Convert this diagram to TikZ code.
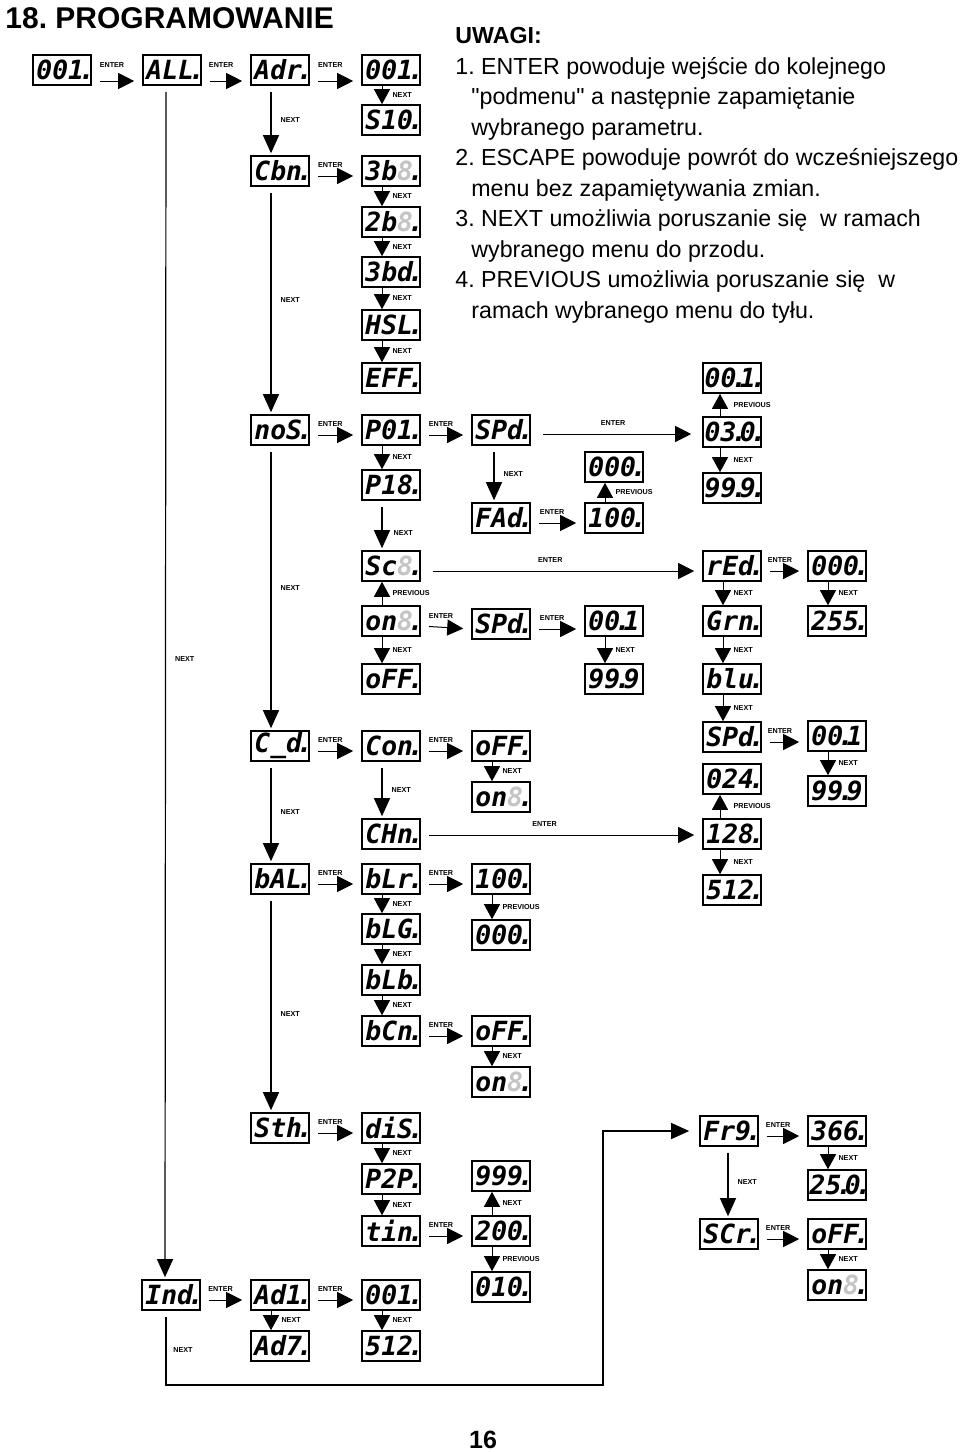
\documentclass[tikz,border=0pt]{standalone}
\usepackage{fontspec}
\setmainfont{Liberation Sans}[Ligatures=TeXOff]
\newfontfamily\segfont{DejaVu Sans Mono}
\usepackage{tikz}
\usetikzlibrary{arrows.meta, positioning}
\usepackage{xcolor}
\definecolor{SegOff}{HTML}{C4C4C4}
\newcommand{\segoff}[1]{\textcolor{SegOff}{#1}}
\newcommand{\segdot}{\rlap{\kern-0.2em.}\kern0.13em}
\frenchspacing

\begin{document}
\begin{tikzpicture}[x=0.5pt, y=-0.5pt,
  lcd/.style={draw, line width=0.8pt, minimum width=29pt, minimum height=15pt, inner sep=0pt,
    font=\segfont\bfseries\itshape\fontsize{13.2}{14}\selectfont},
  lbl/.style={font=\bfseries\fontsize{3.6}{4}\selectfont, inner sep=0.5pt},
  harr/.style={-{Triangle[length=8pt,width=8pt]}, line width=0.5pt, shorten <=4pt, shorten >=4pt},
  varr/.style={-{Triangle[length=7.5pt,width=8pt]}, line width=0.5pt},
  larr/.style={-{Triangle[length=9pt,width=8pt]}, line width=0.6pt, shorten <=3pt, shorten >=1pt}]
  \useasboundingbox (0,0) rectangle (960,1452);
  % Title, notes, page number
  \node[anchor=west, inner sep=0pt, font=\bfseries\fontsize{15}{18}\selectfont] (title) at (5,18) {18. PROGRAMOWANIE};
  \node[anchor=north west, align=left, inner sep=0pt, font=\fontsize{11.6}{15.25}\selectfont] (notes) at (455,27) {%
    {\bfseries UWAGI:}\\
    1. ENTER powoduje wejście do kolejnego\\
    \hspace*{8pt}"podmenu" a następnie zapamiętanie\\
    \hspace*{8pt}wybranego parametru.\\
    2. ESCAPE powoduje powrót do wcześniejszego\\
    \hspace*{8pt}menu bez zapamiętywania zmian.\\
    3. NEXT umożliwia poruszanie się~ w ramach\\
    \hspace*{8pt}wybranego menu do przodu.\\
    4. PREVIOUS umożliwia poruszanie się~ w\\
    \hspace*{8pt}ramach wybranego menu do tyłu.};
  \node[font=\bfseries\fontsize{12.5}{15}\selectfont] (pnum) at (483,1440) {16};

  % Displays
  \node[lcd] (d001) at (62,70) {001\segdot};
  \node[lcd] (dALL) at (172,70) {ALL\segdot};
  \node[lcd] (dAdr) at (280,70) {Adr\segdot};
  \node[lcd] (dAddr) at (391,70) {001\segdot};
  \node[lcd] (dS10) at (391,120) {S10\segdot};
  \node[lcd] (dCbn) at (280,171) {Cbn\segdot};
  \node[lcd] (d3b) at (391,171) {3b\segoff{8}\segdot};
  \node[lcd] (d2b) at (391,222) {2b\segoff{8}\segdot};
  \node[lcd] (d3bd) at (391,272) {3bd\segdot};
  \node[lcd] (dHSL) at (391,325) {HSL\segdot};
  \node[lcd] (dEFF) at (391,378) {EFF\segdot};
  \node[lcd] (dnoS) at (280,430) {noS\segdot};
  \node[lcd] (dP01) at (391,430) {P01\segdot};
  \node[lcd] (dSPd) at (501,430) {SPd\segdot};
  \node[lcd] (dfast) at (732,378) {00\segdot 1\segdot};
  \node[lcd] (dmid) at (732,432) {03\segdot 0\segdot};
  \node[lcd] (dslow) at (732,488) {99\segdot 9\segdot};
  \node[lcd] (dfmax) at (614,467) {000\segdot};
  \node[lcd] (dP18) at (391,485) {P18\segdot};
  \node[lcd] (dFAd) at (501,518) {FAd\segdot};
  \node[lcd] (dfmin) at (614,518) {100\segdot};
  \node[lcd] (dSc) at (391,566) {Sc\segoff{8}\segdot};
  \node[lcd] (don) at (391,621) {on\segoff{8}\segdot};
  \node[lcd] (doff) at (391,679) {oFF\segdot};
  \node[lcd] (dSPdb) at (501,624) {SPd\segdot};
  \node[lcd] (dspmin) at (614,621) {00\segdot 1};
  \node[lcd] (dspmax) at (614,679) {99\segdot 9};
  \node[lcd] (dred) at (732,566) {rEd\segdot};
  \node[lcd] (dgrn) at (732,621) {Grn\segdot};
  \node[lcd] (dblu) at (732,679) {blu\segdot};
  \node[lcd] (dcmin) at (837,566) {000\segdot};
  \node[lcd] (dcmax) at (837,621) {255\segdot};
  \node[lcd] (dCd) at (280,746) {C\_d\segdot};
  \node[lcd] (dCon) at (391,746) {Con\segdot};
  \node[lcd] (dCoff) at (501,746) {oFF\segdot};
  \node[lcd] (dCon8) at (501,797) {on\segoff{8}\segdot};
  \node[lcd] (dCHn) at (391,834) {CHn\segdot};
  \node[lcd] (dSPdc) at (732,737) {SPd\segdot};
  \node[lcd] (d024) at (732,779) {024\segdot};
  \node[lcd] (d128) at (732,834) {128\segdot};
  \node[lcd] (d512) at (732,890) {512\segdot};
  \node[lcd] (dsmin) at (837,736) {00\segdot 1};
  \node[lcd] (dsmax) at (837,791) {99\segdot 9};
  \node[lcd] (dbAL) at (280,879) {bAL\segdot};
  \node[lcd] (dbLr) at (391,879) {bLr\segdot};
  \node[lcd] (dbmax) at (501,879) {100\segdot};
  \node[lcd] (dbmin) at (501,935) {000\segdot};
  \node[lcd] (dbLG) at (391,929) {bLG\segdot};
  \node[lcd] (dbLb) at (391,980) {bLb\segdot};
  \node[lcd] (dbCn) at (391,1031) {bCn\segdot};
  \node[lcd] (dbCoff) at (501,1031) {oFF\segdot};
  \node[lcd] (dbCon) at (501,1082) {on\segoff{8}\segdot};
  \node[lcd] (dSth) at (280,1128) {Sth\segdot};
  \node[lcd] (ddiS) at (391,1128) {diS\segdot};
  \node[lcd] (dP2P) at (391,1179) {P2P\segdot};
  \node[lcd] (dtin) at (391,1231) {tin\segdot};
  \node[lcd] (dtmax) at (501,1176) {999\segdot};
  \node[lcd] (dtmid) at (501,1231) {200\segdot};
  \node[lcd] (dtmin) at (501,1287) {010\segdot};
  \node[lcd] (dFrq) at (729,1131) {Fr9\segdot};
  \node[lcd] (dSCr) at (729,1234) {SCr\segdot};
  \node[lcd] (dfq1) at (837,1131) {366\segdot};
  \node[lcd] (dfq2) at (837,1185) {25\segdot 0\segdot};
  \node[lcd] (dsoff) at (837,1234) {oFF\segdot};
  \node[lcd] (dson) at (837,1285) {on\segoff{8}\segdot};
  \node[lcd] (dInd) at (171,1295) {Ind\segdot};
  \node[lcd] (dAd1) at (280,1295) {Ad1\segdot};
  \node[lcd] (dAd7) at (280,1346) {Ad7\segdot};
  \node[lcd] (dadr1) at (391,1295) {001\segdot};
  \node[lcd] (dadr2) at (391,1346) {512\segdot};

  % ENTER arrows
  \draw[harr] ([yshift=-5.5pt]d001.east) -- node[lbl, pos=0.4, above=6pt] (e1) {ENTER} ([yshift=-5.5pt]dALL.west);
  \draw[harr] ([yshift=-5.5pt]dALL.east) -- node[lbl, pos=0.4, above=6pt] (e2) {ENTER} ([yshift=-5.5pt]dAdr.west);
  \draw[harr] ([yshift=-5.5pt]dAdr.east) -- node[lbl, pos=0.4, above=6pt] (e3) {ENTER} ([yshift=-5.5pt]dAddr.west);
  \draw[harr] ([yshift=-2.5pt]dCbn.east) -- node[lbl, pos=0.4, above=3.5pt] (e4) {ENTER} ([yshift=-2.5pt]d3b.west);
  \draw[harr] ([yshift=-2.5pt]dnoS.east) -- node[lbl, pos=0.4, above=3.5pt] (e5) {ENTER} ([yshift=-2.5pt]dP01.west);
  \draw[harr] ([yshift=-2.5pt]dP01.east) -- node[lbl, pos=0.4, above=3.5pt] (e6) {ENTER} ([yshift=-2.5pt]dSPd.west);
  \draw[harr, shorten <=6pt, shorten >=5.5pt] ([yshift=-2pt]dSPd.east) -- node[lbl, pos=0.48, above=3.5pt] (e7) {ENTER} ([yshift=-2pt]dSPd.east -| dmid.west);
  \draw[harr] ([yshift=-2.5pt]dFAd.east) -- node[lbl, pos=0.4, above=3.5pt] (e8) {ENTER} ([yshift=-2.5pt]dfmin.west);
  \draw[harr, shorten <=6pt] ([yshift=-2.5pt]dSc.east) -- node[lbl, pos=0.46, above=3.5pt] (e9) {ENTER} ([yshift=-2.5pt]dred.west);
  \draw[harr] ([yshift=-2.5pt]don.east) -- node[lbl, pos=0.4, above=3.5pt] (e10) {ENTER} ([yshift=-2.5pt]dSPdb.west);
  \draw[harr] ([yshift=-2.5pt]dSPdb.east) -- node[lbl, pos=0.4, above=3.5pt] (e11) {ENTER} ([yshift=-2.5pt]dSPdb.east -| dspmin.west);
  \draw[harr] ([yshift=-2.5pt]dred.east) -- node[lbl, pos=0.4, above=3.5pt] (e12) {ENTER} ([yshift=-2.5pt]dcmin.west);
  \draw[harr] ([yshift=-2.5pt]dSPdc.east) -- node[lbl, pos=0.4, above=3.5pt] (e13) {ENTER} ([yshift=-2.5pt]dSPdc.east -| dsmin.west);
  \draw[harr] ([yshift=-2.5pt]dCd.east) -- node[lbl, pos=0.4, above=3.5pt] (e14) {ENTER} ([yshift=-2.5pt]dCon.west);
  \draw[harr] ([yshift=-2.5pt]dCon.east) -- node[lbl, pos=0.4, above=3.5pt] (e15) {ENTER} ([yshift=-2.5pt]dCoff.west);
  \draw[harr] ([yshift=-0.5pt]dCHn.east) -- node[lbl, pos=0.44, above=3.5pt] (e16) {ENTER} ([yshift=-0.5pt]d128.west);
  \draw[harr] ([yshift=-2.5pt]dbAL.east) -- node[lbl, pos=0.4, above=3.5pt] (e17) {ENTER} ([yshift=-2.5pt]dbLr.west);
  \draw[harr] ([yshift=-2.5pt]dbLr.east) -- node[lbl, pos=0.4, above=3.5pt] (e18) {ENTER} ([yshift=-2.5pt]dbmax.west);
  \draw[harr] ([yshift=-2.5pt]dbCn.east) -- node[lbl, pos=0.4, above=3.5pt] (e19) {ENTER} ([yshift=-2.5pt]dbCoff.west);
  \draw[harr] ([yshift=-2.5pt]dSth.east) -- node[lbl, pos=0.4, above=3.5pt] (e20) {ENTER} ([yshift=-2.5pt]ddiS.west);
  \draw[harr] ([yshift=-2.5pt]dtin.east) -- node[lbl, pos=0.4, above=3.5pt] (e21) {ENTER} ([yshift=-2.5pt]dtmid.west);
  \draw[harr] ([yshift=-2.5pt]dFrq.east) -- node[lbl, pos=0.4, above=3.5pt] (e22) {ENTER} ([yshift=-2.5pt]dfq1.west);
  \draw[harr] ([yshift=-2.5pt]dSCr.east) -- node[lbl, pos=0.4, above=3.5pt] (e23) {ENTER} ([yshift=-2.5pt]dsoff.west);
  \draw[harr] ([yshift=-2.5pt]dInd.east) -- node[lbl, pos=0.4, above=3.5pt] (e24) {ENTER} ([yshift=-2.5pt]dAd1.west);
  \draw[harr] ([yshift=-2.5pt]dAd1.east) -- node[lbl, pos=0.4, above=3.5pt] (e25) {ENTER} ([yshift=-2.5pt]dadr1.west);

  % NEXT / PREVIOUS between stacked displays
  \draw[varr] ([xshift=-4.5pt]dAddr.south) -- node[lbl, midway, right=4.5pt] (n1) {NEXT} ([xshift=-4.5pt]dS10.north);
  \draw[varr] ([xshift=-4.5pt]d3b.south) -- node[lbl, midway, right=4.5pt] (n2) {NEXT} ([xshift=-4.5pt]d2b.north);
  \draw[varr] ([xshift=-4.5pt]d2b.south) -- node[lbl, midway, right=4.5pt] (n3) {NEXT} ([xshift=-4.5pt]d3bd.north);
  \draw[varr] ([xshift=-4.5pt]d3bd.south) -- node[lbl, midway, right=4.5pt] (n4) {NEXT} ([xshift=-4.5pt]dHSL.north);
  \draw[varr] ([xshift=-4.5pt]dHSL.south) -- node[lbl, midway, right=4.5pt] (n5) {NEXT} ([xshift=-4.5pt]dEFF.north);
  \draw[varr] ([xshift=-4.5pt]dP01.south) -- node[lbl, midway, right=4.5pt] (n6) {NEXT} ([xshift=-4.5pt]dP18.north);
  \draw[varr] ([xshift=-4.5pt]dfmin.north) -- node[lbl, midway, right=4.5pt] (n7) {PREVIOUS} ([xshift=-4.5pt]dfmax.south);
  \draw[varr] ([xshift=-6pt]dmid.north) -- node[lbl, midway, right=6pt] (n8) {PREVIOUS} ([xshift=-6pt]dfast.south);
  \draw[varr] ([xshift=-6pt]dmid.south) -- node[lbl, midway, right=6pt] (n9) {NEXT} ([xshift=-6pt]dslow.north);
  \draw[varr] ([xshift=-4.5pt]don.north) -- node[lbl, midway, right=4.5pt] (n10) {PREVIOUS} ([xshift=-4.5pt]dSc.south);
  \draw[varr] ([xshift=-4.5pt]don.south) -- node[lbl, midway, right=4.5pt] (n11) {NEXT} ([xshift=-4.5pt]doff.north);
  \draw[varr] ([xshift=-4.5pt]dspmin.south) -- node[lbl, midway, right=4.5pt] (n12) {NEXT} ([xshift=-4.5pt]dspmax.north);
  \draw[varr] ([xshift=-4.5pt]dred.south) -- node[lbl, midway, right=4.5pt] (n13) {NEXT} ([xshift=-4.5pt]dgrn.north);
  \draw[varr] ([xshift=-4.5pt]dgrn.south) -- node[lbl, midway, right=4.5pt] (n14) {NEXT} ([xshift=-4.5pt]dblu.north);
  \draw[varr] ([xshift=-4.5pt]dblu.south) -- node[lbl, midway, right=4.5pt] (n15) {NEXT} ([xshift=-4.5pt]dSPdc.north);
  \draw[varr] ([xshift=-4.5pt]dcmin.south) -- node[lbl, midway, right=4.5pt] (n16) {NEXT} ([xshift=-4.5pt]dcmax.north);
  \draw[varr] ([xshift=-4.5pt]dCoff.south) -- node[lbl, midway, right=4.5pt] (n17) {NEXT} ([xshift=-4.5pt]dCon8.north);
  \draw[varr] ([xshift=-6pt]d128.north) -- node[lbl, midway, right=6pt] (n18) {PREVIOUS} ([xshift=-6pt]d024.south);
  \draw[varr] ([xshift=-6pt]d128.south) -- node[lbl, midway, right=6pt] (n19) {NEXT} ([xshift=-6pt]d512.north);
  \draw[varr] ([xshift=-4.5pt]dsmin.south) -- node[lbl, midway, right=4.5pt] (n20) {NEXT} ([xshift=-4.5pt]dsmax.north);
  \draw[varr] ([xshift=-4.5pt]dbLr.south) -- node[lbl, midway, right=4.5pt] (n21) {NEXT} ([xshift=-4.5pt]dbLG.north);
  \draw[varr] ([xshift=-4.5pt]dbLG.south) -- node[lbl, midway, right=4.5pt] (n22) {NEXT} ([xshift=-4.5pt]dbLb.north);
  \draw[varr] ([xshift=-4.5pt]dbLb.south) -- node[lbl, midway, right=4.5pt] (n23) {NEXT} ([xshift=-4.5pt]dbCn.north);
  \draw[varr] ([xshift=-4.5pt]dbmax.south) -- node[lbl, midway, right=4.5pt] (n24) {PREVIOUS} ([xshift=-4.5pt]dbmin.north);
  \draw[varr] ([xshift=-4.5pt]dbCoff.south) -- node[lbl, midway, right=4.5pt] (n25) {NEXT} ([xshift=-4.5pt]dbCon.north);
  \draw[varr] ([xshift=-4.5pt]ddiS.south) -- node[lbl, midway, right=4.5pt] (n26) {NEXT} ([xshift=-4.5pt]dP2P.north);
  \draw[varr] ([xshift=-4.5pt]dP2P.south) -- node[lbl, midway, right=4.5pt] (n27) {NEXT} ([xshift=-4.5pt]dtin.north);
  \draw[varr] ([xshift=-4.5pt]dtmid.north) -- node[lbl, midway, right=4.5pt] (n28) {NEXT} ([xshift=-4.5pt]dtmax.south);
  \draw[varr] ([xshift=-4.5pt]dtmid.south) -- node[lbl, midway, right=4.5pt] (n29) {PREVIOUS} ([xshift=-4.5pt]dtmin.north);
  \draw[varr] ([xshift=-4.5pt]dfq1.south) -- node[lbl, midway, right=4.5pt] (n30) {NEXT} ([xshift=-4.5pt]dfq2.north);
  \draw[varr] ([xshift=-4.5pt]dsoff.south) -- node[lbl, midway, right=4.5pt] (n31) {NEXT} ([xshift=-4.5pt]dson.north);
  \draw[varr] ([xshift=-4.5pt]dAd1.south) -- node[lbl, midway, right=4.5pt] (n32) {NEXT} ([xshift=-4.5pt]dAd7.north);
  \draw[varr] ([xshift=-4.5pt]dadr1.south) -- node[lbl, midway, right=4.5pt] (n33) {NEXT} ([xshift=-4.5pt]dadr2.north);

  % Long NEXT lines
  \draw[larr] ([xshift=-4.5pt]dAdr.south) -- node[lbl, midway, right=4pt] (l1) {NEXT} ([xshift=-4.5pt]dCbn.north);
  \draw[larr] ([xshift=-4.5pt]dCbn.south) -- node[lbl, midway, right=4pt] (l2) {NEXT} ([xshift=-4.5pt]dnoS.north);
  \draw[larr] ([xshift=-4.5pt]dnoS.south) -- node[lbl, midway, right=4pt] (l3) {NEXT} ([xshift=-4.5pt]dCd.north);
  \draw[larr] ([xshift=-4.5pt]dCd.south) -- node[lbl, midway, right=4pt] (l4) {NEXT} ([xshift=-4.5pt]dbAL.north);
  \draw[larr] ([xshift=-4.5pt]dbAL.south) -- node[lbl, pos=0.55, right=4pt] (l5) {NEXT} ([xshift=-4.5pt]dSth.north);
  \draw[larr] ([xshift=-3pt]dALL.south) -- node[lbl, pos=0.48, right=4pt] (l6) {NEXT} ([xshift=-3pt]dInd.north);
  \draw[larr] ([xshift=-4.5pt]dP18.south) -- node[lbl, pos=0.65, right=5pt] (l7) {NEXT} ([xshift=-4.5pt]dSc.north);
  \draw[larr] ([xshift=-3.5pt]dSPd.south) -- node[lbl, midway, right=4pt] (l8) {NEXT} ([xshift=-3.5pt]dFAd.north);
  \draw[larr] ([xshift=-4.5pt]dCon.south) -- node[lbl, midway, right=4pt] (l9) {NEXT} ([xshift=-4.5pt]dCHn.north);
  \draw[larr] ([xshift=-0.5pt]dFrq.south) -- node[lbl, midway, right=4pt] (l10) {NEXT} ([xshift=-0.5pt]dSCr.north);
  % Loop back from Ind. to Fr9.
  \coordinate (loopc) at (603,1385);
  \draw[larr, shorten >=5pt] ([xshift=-2.5pt]dInd.south) |- (loopc) |- (dFrq.west);
  \node[lbl] (l11) at (183,1350) {NEXT};
\end{tikzpicture}
\end{document}
